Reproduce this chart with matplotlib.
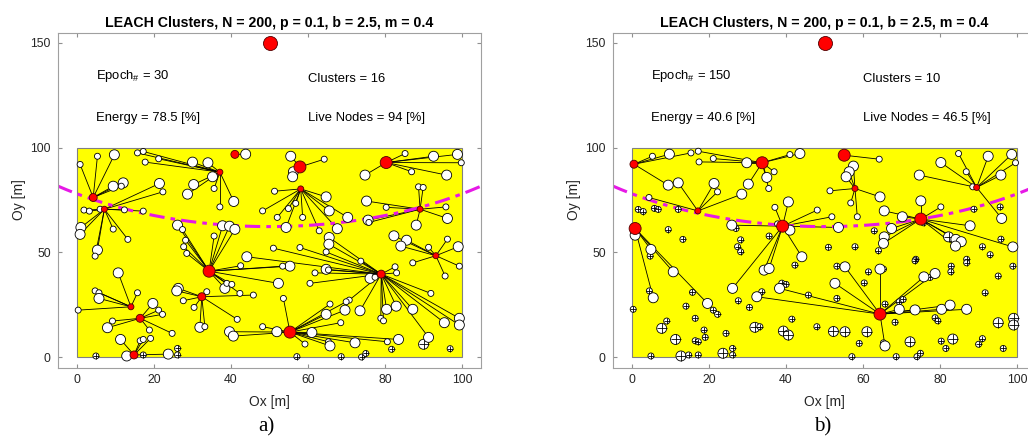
import numpy as np
import matplotlib.pyplot as plt
import matplotlib.patches as patches

plt.rcParams['font.family'] = ['Liberation Sans', 'DejaVu Sans']
plt.rcParams['mathtext.fontset'] = 'custom'
plt.rcParams['mathtext.rm'] = 'Liberation Sans'
plt.rcParams['mathtext.it'] = 'Liberation Sans'

title = 'LEACH Clusters, N = 200, p = 0.1, b = 2.5, m = 0.4'
bs_x, bs_y = 50, 150      # base station
d0 = 87.7                 # crossover distance (magenta arc)

# ---------------- panel a) epoch 30 ----------------
a_info = (30, 78.5, 16, 94)
a_chx = [4.2, 7.1, 37.1, 41.0, 57.9, 58.1, 80.3, 89.1, 93.2, 34.3, 32.4, 14.0, 16.4, 14.8, 79.0, 55.3]
a_chy = [76.2, 70.6, 88.3, 96.8, 90.8, 80.3, 92.9, 70.6, 48.4, 41.0, 28.8, 24.0, 18.5, 1.0, 39.6, 11.9]
a_che = [2, 1, 1, 2, 3, 1, 3, 1, 1, 3, 2, 1, 2, 2, 2, 3]

a_mx = [0.8, 5.3, 9.7, 9.4, 12.0, 11.5,
        15.7, 17.2, 17.7, 21.2, 30.0, 34.0, 35.2, 30.3, 28.7, 35.6, 37.1, 40.7,
        21.4, 22.3, 1.8, 3.2, 6.0, 12.3, 17.2, 1.0, 0.8, 9.4, 13.2, 5.3, 4.7,
        43.8,
        26.1, 27.4, 28.2, 27.7, 28.5, 35.6, 37.8, 39.6, 41.0, 42.5, 38.4, 38.9, 40.2, 42.3, 52.3, 55.3, 53.4,
        51.3, 48.2, 52.0, 64.7, 56.8, 54.9, 58.6, 65.5, 70.3, 54.3, 62.9, 67.6,
        55.5, 64.2, 56.2, 56.0,
        85.2, 92.6, 98.8, 99.8, 86.9, 96.0, 74.8,
        88.7, 89.9, 75.2, 80.3, 75.6, 75.8, 88.1, 95.8, 96.2,
        82.3, 85.6, 84.1, 91.3, 96.2, 99.0, 87.2, 95.6, 99.3,
        51.0, 44.1, 57.9, 65.5, 65.4, 64.7, 61.8, 64.7, 65.3, 60.5, 73.7, 76.1, 77.4, 82.6,
        83.0, 91.9, 70.7, 73.5, 78.9, 79.6, 80.4, 82.9, 87.2, 95.4, 99.3, 99.3, 91.3,
        10.7, 15.7, 4.7, 5.7, 5.7, 0.3,
        19.7, 21.2, 22.2, 9.2, 7.9, 18.8, 24.7,
        11.3, 16.4, 17.2, 19.1, 12.9, 23.7,
        26.3, 25.9, 27.6, 30.4, 33.7, 31.9, 33.2, 41.6, 45.8,
        39.6, 40.6, 48.2, 51.9, 53.6, 65.7, 69.9, 69.6, 64.7, 68.5, 61.0, 59.2, 65.3, 65.7, 72.2, 80.6, 83.5]
a_my = [92.0, 95.9, 96.6, 81.6, 83.2, 81.6,
        97.5, 98.2, 93.1, 94.7, 93.1, 92.8, 86.1, 82.4, 77.8, 80.5, 71.7, 74.3,
        82.9, 78.9, 70.2, 69.7, 70.6, 70.3, 69.7, 61.9, 58.6, 61.1, 56.2, 51.1, 48.2,
        96.9,
        63.0, 60.9, 55.8, 52.7, 49.5, 57.8, 62.7, 62.5, 61.0, 43.6, 32.8, 35.2, 34.7, 30.4, 35.2, 43.4, 43.4,
        79.2, 69.8, 66.7, 76.5, 73.4, 70.9, 66.7, 69.8, 66.7, 61.9, 60.3, 61.3,
        95.9, 94.5, 88.5, 86.1,
        97.2, 95.9, 96.8, 92.8, 88.5, 86.9, 86.9,
        81.3, 81.0, 74.5, 71.5, 65.4, 64.3, 63.0, 71.7, 66.2,
        57.9, 55.8, 53.0, 52.4, 56.3, 52.7, 45.0, 38.7, 43.4,
        52.0, 47.9, 52.3, 57.1, 53.9, 50.2, 40.2, 41.9, 41.6, 35.2, 45.8, 37.6, 38.1, 43.1,
        40.2, 30.4, 27.2, 22.1, 18.5, 17.3, 22.8, 24.3, 22.8, 16.4, 18.5, 15.3, 9.4,
        40.2, 30.7, 31.6, 30.7, 28.0, 22.4,
        25.6, 22.4, 20.4, 17.2, 14.0, 12.9, 11.3,
        8.4, 7.8, 8.4, 8.9, 0.5, 1.4,
        32.8, 31.6, 26.9, 23.7, 31.2, 14.2, 14.5, 18.0, 29.6,
        12.1, 10.0, 14.5, 12.1, 28.0, 25.3, 26.4, 22.4, 20.4, 16.4, 11.7, 6.2, 7.3, 5.3, 6.8, 7.3, 8.4]
a_me = [1, 1, 2, 2, 2, 1,
        1, 1, 1, 1, 2, 2, 2, 2, 2, 1, 1, 2,
        2, 1, 1, 1, 1, 1, 1, 2, 2, 1, 1, 2, 1,
        2,
        2, 1, 1, 1, 1, 1, 2, 2, 2, 1, 2, 1, 1, 1, 2, 2, 1,
        1, 1, 1, 2, 1, 1, 1, 2, 2, 2, 1, 2,
        2, 1, 2, 2,
        1, 2, 2, 1, 1, 2, 2,
        1, 1, 2, 1, 2, 1, 2, 1, 2,
        2, 2, 2, 1, 1, 2, 1, 1, 1,
        1, 2, 1, 2, 2, 1, 1, 2, 1, 1, 1, 2, 1, 1,
        1, 1, 1, 2, 1, 1, 2, 2, 2, 2, 2, 2, 2,
        2, 1, 1, 1, 2, 1,
        2, 1, 1, 1, 2, 1, 1,
        2, 1, 1, 1, 2, 2,
        2, 2, 1, 1, 1, 2, 1, 1, 1,
        2, 2, 1, 2, 1, 1, 1, 2, 2, 1, 2, 1, 1, 2, 2, 1, 2]
a_mch = [0] * 6 + [2] * 12 + [1] * 13 + [3] * 1 + [9] * 17 + [5] * 12 + [4] * 4 + [6] * 7 + \
        [7] * 9 + [8] * 9 + [14] * 27 + [11] * 6 + [12] * 7 + [13] * 6 + [10] * 9 + [15] * 17

a_dx = [4.9, 26.1, 26.1, 17.2, 90.0, 81.7, 96.9, 57.1, 68.6, 73.9, 75.0]
a_dy = [0.5, 4.1, 1.0, 1.0, 6.1, 3.7, 4.0, 0.2, 0.2, 0.0, 1.7]
a_de = [1, 1, 1, 1, 2, 1, 1, 1, 1, 1, 1]

# ---------------- panel b) epoch 150 ----------------
b_info = (150, 40.6, 10, 46.5)
b_chx = [0.5, 33.8, 17.1, 0.8, 39.1, 55.1, 57.9, 89.5, 75.0, 64.4]
b_chy = [92.1, 92.8, 69.8, 61.4, 62.5, 96.4, 80.5, 81.0, 65.9, 20.5]
b_che = [2, 3, 1, 3, 3, 3, 1, 1, 3, 3]

b_mx = [5.3, 9.7, 15.3, 9.4,
        17.2, 21.1, 17.4, 29.8, 41.0, 43.6, 36.9, 35.0, 35.5, 30.2,
        28.5, 12.0, 21.3, 22.2, 4.4,
        37.1, 40.6, 48.1, 51.9, 53.6, 41.0, 25.9, 37.8, 44.1, 34.3, 35.6, 26.1,
        51.4, 57.5, 56.4, 55.6, 56.8, 64.4, 58.5,
        64.2,
        84.8, 92.5, 98.6, 99.6, 86.8, 95.8, 80.2, 74.6, 88.5, 96.0,
        75.0, 80.2, 65.5, 70.2, 67.4, 65.5, 65.3, 87.8, 84.1, 85.5, 84.0, 98.9,
        0.8, 4.9, 10.7, 5.5, 19.6,
        32.4, 38.3, 52.7, 55.3, 64.4, 75.8, 78.7, 69.4, 73.5, 80.4, 82.6, 86.9, 65.7]
b_my = [95.9, 96.9, 97.5, 82.1,
        98.3, 94.8, 93.2, 92.8, 96.7, 97.2, 88.5, 85.8, 80.5, 82.6,
        77.8, 83.2, 82.9, 78.9, 76.2,
        71.5, 74.1, 70.2, 67.0, 61.9, 60.6, 63.0, 63.6, 47.9, 41.5, 42.3, 32.8,
        79.4, 91.2, 88.5, 86.1, 73.6, 76.5, 67.0,
        94.5,
        97.2, 95.9, 96.8, 92.8, 88.5, 86.9, 92.9, 86.9, 81.3, 66.2,
        74.6, 71.7, 69.8, 67.0, 61.4, 57.4, 54.3, 62.7, 56.2, 55.1, 53.0, 52.6,
        58.2, 51.4, 40.7, 28.3, 25.6,
        28.8, 32.8, 35.2, 43.1, 42.0, 38.3, 39.9, 22.8, 22.5, 22.8, 24.8, 22.8, 5.3]
b_me = [1, 2, 1, 2,
        1, 1, 1, 2, 1, 2, 1, 2, 1, 2,
        2, 2, 2, 1, 1,
        1, 2, 1, 1, 2, 2, 2, 1, 2, 2, 2, 2,
        1, 2, 2, 2, 1, 2, 1,
        1,
        1, 2, 2, 1, 1, 2, 2, 2, 1, 2,
        2, 1, 2, 2, 2, 2, 2, 2, 2, 2, 2, 2,
        2, 2, 2, 2, 2,
        2, 2, 2, 2, 2, 2, 2, 2, 2, 2, 2, 2, 2]
b_mch = [0] * 4 + [1] * 10 + [2] * 5 + [4] * 12 + [6] * 7 + [5] * 1 + [7] * 10 + [8] * 12 + \
        [3] * 5 + [9] * 13

b_dx = [1.6, 2.9, 5.8, 6.8, 12.0, 9.4, 13.2, 27.0, 28.2, 27.4, 28.2, 35.6, 51.0, 4.7,
        88.8, 95.6, 62.9, 75.7, 82.2, 95.8, 57.9, 64.0, 91.0, 93.0, 73.7, 86.9,
        42.3, 53.2, 4.5, 15.7, 21.1, 22.2, 27.6, 30.5, 0.3, 14.0, 16.4, 9.0, 7.7, 18.7,
        19.0, 11.3, 16.4, 17.2, 24.4, 12.7, 14.7, 17.2, 4.9, 23.6, 26.1, 26.1, 31.9, 33.2,
        33.7, 38.9, 40.0, 41.5, 45.8, 48.0, 39.3, 40.6, 52.3, 53.2,
        61.4, 65.3, 73.5, 77.4, 82.9, 82.8, 86.9, 98.9, 95.1, 60.3, 91.7, 65.7, 69.4, 70.4,
        78.7, 79.4, 68.3, 55.3, 61.0, 59.0, 65.3, 72.2, 68.6, 74.0, 74.9, 80.3, 83.3, 81.5,
        90.0, 91.0, 95.1, 99.1, 99.1, 96.4, 57.1]
b_dy = [70.5, 69.5, 71.0, 70.5, 70.5, 60.9, 56.2, 61.4, 56.0, 52.7, 50.3, 57.8, 52.4, 48.2,
        70.6, 71.7, 60.3, 64.1, 57.4, 56.3, 52.7, 50.8, 52.7, 48.9, 46.7, 46.7,
        43.9, 43.4, 31.6, 30.9, 22.4, 20.4, 26.9, 23.7, 22.8, 24.3, 18.5, 17.2, 13.7, 12.9,
        9.4, 8.4, 7.8, 7.3, 11.3, 0.5, 1.0, 1.0, 0.5, 1.8, 4.1, 1.0, 14.2, 14.5,
        31.2, 35.3, 34.7, 18.1, 29.6, 14.5, 12.4, 10.5, 12.2, 28.0,
        40.7, 42.0, 46.0, 38.0, 43.4, 40.7, 45.0, 43.4, 38.7, 35.4, 30.7, 25.3, 26.4, 27.5,
        18.8, 17.3, 16.6, 12.1, 12.1, 6.5, 6.8, 7.3, 0.2, 0.2, 1.8, 7.6, 8.6, 4.1,
        6.1, 8.8, 16.4, 18.5, 15.3, 4.1, 0.2]
b_de = [1, 1, 1, 1, 1, 1, 1, 1, 1, 1, 1, 1, 1, 1,
        1, 1, 1, 1, 2, 1, 1, 1, 1, 1, 1, 1,
        1, 1, 1, 1, 1, 1, 1, 1, 1, 1, 1, 1, 2, 1,
        1, 2, 1, 1, 1, 2, 1, 1, 1, 2, 1, 1, 2, 1,
        1, 1, 1, 1, 1, 1, 2, 2, 2, 1,
        1, 1, 1, 1, 1, 1, 1, 1, 1, 1, 1, 1, 1, 1,
        1, 1, 1, 2, 2, 1, 1, 2, 1, 1, 1, 1, 2, 1,
        1, 1, 2, 2, 2, 1, 1]

# marker diameters (px) for each energy level
node_d = {1: 6, 2: 10}
ch_d = {1: 6, 2: 8, 3: 12}


def msize(levels, table):
    return [(table[v] * 0.72) ** 2 for v in levels]


def draw_panel(ax, chx, chy, che, mx, my, me, mch, dx, dy, de, info):
    ax.add_patch(patches.Rectangle((0, 0), 100, 100, fc='#ffff00', ec='#808080', lw=0.8, zorder=0.5))
    for x, y, c in zip(mx, my, mch):
        ax.plot([x, chx[c]], [y, chy[c]], color='k', lw=0.6, zorder=1)
    t = np.linspace(-5, 105, 300)
    ax.plot(t, bs_y - np.sqrt(d0 ** 2 - (t - bs_x) ** 2), color='#e619e6', lw=2.2,
            ls=(0, (5, 2, 1.5, 2)), zorder=1.5)
    ax.scatter(dx, dy, s=msize(de, node_d), c='white', edgecolors='k', linewidths=0.6, zorder=2)
    ax.scatter(dx, dy, s=msize(de, node_d), marker='+', c='k', linewidths=0.6, zorder=2.1)
    ax.scatter(mx, my, s=msize(me, node_d), c='white', edgecolors='k', linewidths=0.6, zorder=2.2)
    ax.scatter(chx, chy, s=msize(che, ch_d), c='#ff0000', edgecolors='#500000', linewidths=0.6, zorder=3)
    ax.scatter([bs_x], [bs_y], s=(14 * 0.72) ** 2, c='#ff0000', edgecolors='#500000',
               linewidths=0.6, zorder=3, clip_on=False)

    epoch, energy, nclus, live = info
    ax.text(5, 134, 'Epoch$_{\\#}$ = %d' % epoch, fontsize=9.4, va='center')
    ax.text(5, 114, 'Energy = %.1f [%%]' % energy, fontsize=9.4, va='center')
    ax.text(60, 133, 'Clusters = %d' % nclus, fontsize=9.4, va='center')
    ax.text(60, 114, 'Live Nodes = %g [%%]' % live, fontsize=9.4, va='center')

    ax.set_xlim(-5, 105)
    ax.set_ylim(-5, 155)
    ax.set_xticks(range(0, 101, 20))
    ax.set_yticks([0, 50, 100, 150])
    ax.tick_params(direction='in', top=True, right=True, length=3, color='#909090',
                   labelsize=8.8, labelcolor='#262626', pad=5)
    for s in ax.spines.values():
        s.set_color('#a0a0a0')
        s.set_linewidth(0.8)
    ax.set_title(title, fontsize=10.2, fontweight='bold', pad=4)
    ax.set_xlabel('Ox [m]', fontsize=10, labelpad=6, color='#262626')
    ax.set_ylabel('Oy [m]', fontsize=10, labelpad=3, color='#262626')


fig = plt.figure(figsize=(10.28, 4.36), dpi=100)
ax1 = fig.add_axes([0.0562, 0.1571, 0.412, 0.7683])
ax2 = fig.add_axes([0.5961, 0.1571, 0.412, 0.7683])
draw_panel(ax1, a_chx, a_chy, a_che, a_mx, a_my, a_me, a_mch, a_dx, a_dy, a_de, a_info)
draw_panel(ax2, b_chx, b_chy, b_che, b_mx, b_my, b_me, b_mch, b_dx, b_dy, b_de, b_info)

fig.text(0.259, 0.021, 'a)', fontsize=15, family=['Liberation Serif'], ha='center', va='center')
fig.text(0.800, 0.021, 'b)', fontsize=15, family=['Liberation Serif'], ha='center', va='center')

fig.savefig('out.png', dpi=100)
